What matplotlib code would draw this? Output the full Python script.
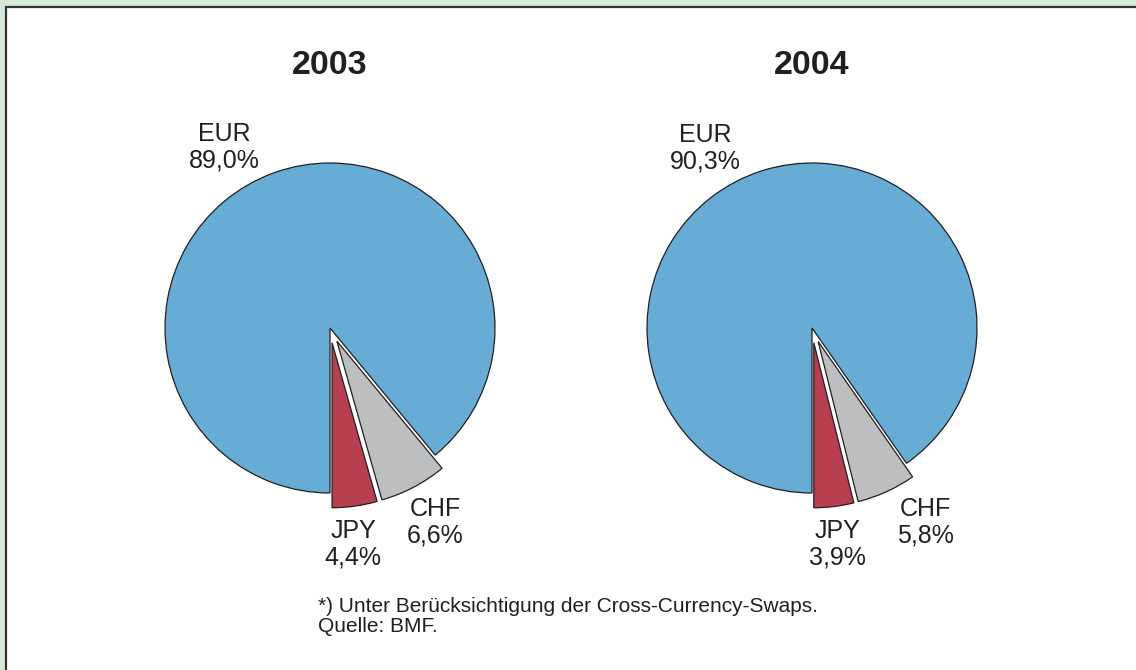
import matplotlib
matplotlib.use("Agg")
import matplotlib.pyplot as plt
from matplotlib.patches import Rectangle

plt.rcParams['font.family'] = ['Liberation Sans', 'DejaVu Sans']

currencies = ["EUR", "CHF", "JPY"]
years = ["2003", "2004"]
shares_2003 = [89.0, 6.6, 4.4]
shares_2004 = [90.3, 5.8, 3.9]
colors = ["#67acd5", "#bcbec0", "#b83f50"]
footnote = "*) Unter Berücksichtigung der Cross-Currency-Swaps.\nQuelle: BMF."

W, H = 1136, 670
R = 165
fig = plt.figure(figsize=(W / 100, H / 100), dpi=100)
fig.patch.set_facecolor("#d6eadb")
ax = fig.add_axes([0, 0, 1, 1])
ax.set_facecolor("none")

# white panel with dark border
ax.add_patch(Rectangle((6, -5), W, H - 7 + 5, facecolor="white",
                       edgecolor="#333333", linewidth=1.6, zorder=0))

txt = "#231f20"

def fmt(v):
    return f"{v:.1f}%".replace(".", ",")

layouts = [
    dict(center=(330, H - 328), title_x=330,
         label_pos={"EUR": (224, H - 147), "JPY": (353, H - 544), "CHF": (435, H - 522)}),
    dict(center=(812, H - 328), title_x=812,
         label_pos={"EUR": (705, H - 148), "JPY": (837, H - 544), "CHF": (925, H - 522)}),
]

for year, shares, lay in zip(years, [shares_2003, shares_2004], layouts):
    ax.pie(shares, colors=colors, startangle=-90, counterclock=False,
           center=lay["center"], radius=R, explode=[0, 0.09 * R, 0.09 * R],
           wedgeprops=dict(edgecolor=txt, linewidth=0.9))
    ax.text(lay["title_x"], H - 65, year, ha="center", va="center",
            fontsize=24.5, fontweight="bold", color=txt)
    for cur, v in zip(currencies, shares):
        x, y = lay["label_pos"][cur]
        ax.text(x, y, f"{cur}\n{fmt(v)}", ha="center", va="center",
                fontsize=18, color=txt, linespacing=1.15)

ax.text(318, H - 597, footnote, ha="left", va="top", fontsize=15,
        color=txt, linespacing=1.1)

ax.set_xlim(0, W)
ax.set_ylim(0, H)
ax.set_aspect("equal")
ax.axis("off")

fig.savefig("out.png", dpi=100, facecolor=fig.get_facecolor())
